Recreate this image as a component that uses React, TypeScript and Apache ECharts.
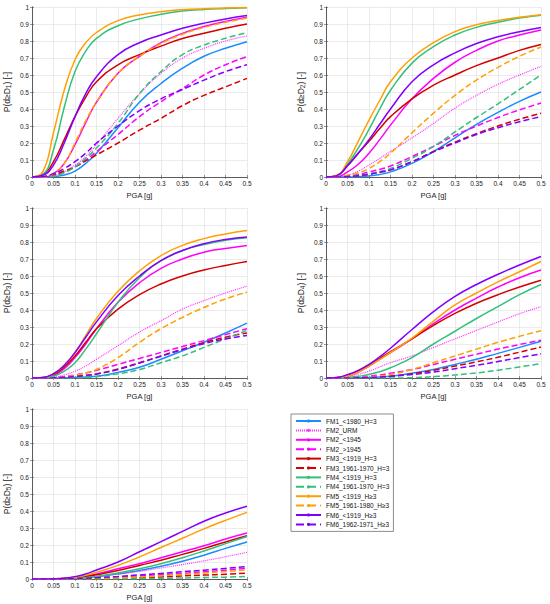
import React, { useEffect, useRef } from "react";
import * as echarts from "echarts";

// PGA sample points [g]
const PGA = [0, 0.025, 0.05, 0.075, 0.1, 0.125, 0.15, 0.2, 0.25, 0.3, 0.35, 0.4, 0.45, 0.5];

const NAMES = [
  "FM1_<1980_H=3",
  "FM2_URM",
  "FM2_<1945",
  "FM2_>1945",
  "FM3_<1919_H=3",
  "FM3_1961-1970_H=3",
  "FM4_<1919_H=3",
  "FM4_1961-1970_H=3",
  "FM5_<1919_H≥3",
  "FM5_1961-1980_H≥3",
  "FM6_<1919_H≥3",
  "FM6_1962-1971_H≥3",
];

const COLORS = [
  "#1a8cff", "#ff33ff", "#ff00ff", "#ff00ff",
  "#d40000", "#d40000", "#33c07a", "#33c07a",
  "#ffa000", "#ffa000", "#8000ff", "#8000ff",
];

const TYPES: any[] = [
  "solid", [1, 1], "solid", "dashed",
  "solid", "dashed", "solid", "dashed",
  "solid", "dashed", "solid", "dashed",
];

// Damage state 1 (order as NAMES)
const DS1 = [
  [0, 0, 0.003, 0.012, 0.035, 0.08, 0.14, 0.29, 0.44, 0.55, 0.64, 0.71, 0.757, 0.796],
  [0, 0, 0.01, 0.03, 0.07, 0.12, 0.19, 0.345, 0.49, 0.61, 0.7, 0.757, 0.8, 0.83],
  [0, 0, 0.02, 0.08, 0.19, 0.32, 0.44, 0.61, 0.71, 0.79, 0.845, 0.885, 0.915, 0.94],
  [0, 0, 0.01, 0.03, 0.06, 0.1, 0.15, 0.25, 0.355, 0.443, 0.52, 0.6, 0.66, 0.708],
  [0, 0.015, 0.09, 0.22, 0.355, 0.47, 0.56, 0.66, 0.72, 0.77, 0.815, 0.845, 0.875, 0.9],
  [0, 0.002, 0.015, 0.035, 0.06, 0.095, 0.13, 0.2, 0.276, 0.345, 0.42, 0.48, 0.53, 0.58],
  [0, 0.015, 0.16, 0.41, 0.62, 0.74, 0.815, 0.89, 0.93, 0.957, 0.976, 0.986, 0.991, 0.995],
  [0, 0, 0.005, 0.025, 0.06, 0.11, 0.17, 0.315, 0.49, 0.62, 0.72, 0.776, 0.816, 0.85],
  [0, 0.03, 0.26, 0.51, 0.69, 0.79, 0.85, 0.92, 0.953, 0.972, 0.984, 0.99, 0.994, 0.997],
  [0, 0, 0.02, 0.08, 0.2, 0.33, 0.44, 0.61, 0.71, 0.785, 0.84, 0.88, 0.91, 0.935],
  [0, 0.01, 0.07, 0.2, 0.355, 0.49, 0.59, 0.72, 0.79, 0.835, 0.875, 0.905, 0.93, 0.95],
  [0, 0.002, 0.02, 0.05, 0.09, 0.14, 0.2, 0.3, 0.39, 0.46, 0.515, 0.57, 0.62, 0.66],
];

const DS2 = [
  [0, 0, 0, 0.002, 0.006, 0.015, 0.03, 0.08, 0.15, 0.23, 0.31, 0.38, 0.445, 0.5],
  [0, 0, 0.01, 0.035, 0.07, 0.11, 0.15, 0.23, 0.315, 0.405, 0.48, 0.545, 0.6, 0.65],
  [0, 0.002, 0.03, 0.075, 0.14, 0.22, 0.305, 0.46, 0.58, 0.675, 0.745, 0.8, 0.835, 0.865],
  [0, 0, 0.005, 0.015, 0.03, 0.045, 0.065, 0.12, 0.18, 0.245, 0.3, 0.35, 0.395, 0.435],
  [0, 0.008, 0.067, 0.14, 0.21, 0.285, 0.355, 0.46, 0.54, 0.6, 0.655, 0.7, 0.745, 0.78],
  [0, 0, 0.003, 0.008, 0.016, 0.028, 0.042, 0.09, 0.15, 0.205, 0.255, 0.3, 0.34, 0.375],
  [0, 0.008, 0.075, 0.17, 0.28, 0.4, 0.51, 0.67, 0.767, 0.835, 0.88, 0.91, 0.935, 0.952],
  [0, 0, 0.003, 0.01, 0.02, 0.032, 0.05, 0.11, 0.18, 0.265, 0.35, 0.43, 0.515, 0.6],
  [0, 0.01, 0.09, 0.21, 0.335, 0.45, 0.56, 0.7, 0.79, 0.855, 0.895, 0.92, 0.94, 0.955],
  [0, 0, 0.01, 0.025, 0.05, 0.09, 0.14, 0.26, 0.375, 0.48, 0.57, 0.645, 0.71, 0.765],
  [0, 0.008, 0.067, 0.14, 0.22, 0.31, 0.4, 0.56, 0.66, 0.73, 0.785, 0.825, 0.855, 0.88],
  [0, 0, 0.003, 0.008, 0.016, 0.028, 0.042, 0.09, 0.148, 0.2, 0.25, 0.29, 0.325, 0.355],
];

const DS3 = [
  [0, 0, 0, 0.001, 0.003, 0.006, 0.01, 0.033, 0.063, 0.11, 0.16, 0.21, 0.265, 0.323],
  [0, 0, 0.005, 0.018, 0.04, 0.07, 0.11, 0.19, 0.27, 0.337, 0.405, 0.455, 0.5, 0.54],
  [0, 0.002, 0.015, 0.055, 0.12, 0.2, 0.29, 0.445, 0.56, 0.645, 0.7, 0.74, 0.762, 0.78],
  [0, 0, 0.002, 0.008, 0.018, 0.03, 0.045, 0.08, 0.115, 0.15, 0.185, 0.22, 0.255, 0.29],
  [0, 0.003, 0.02, 0.065, 0.13, 0.21, 0.29, 0.405, 0.49, 0.553, 0.6, 0.635, 0.662, 0.685],
  [0, 0, 0.001, 0.004, 0.01, 0.016, 0.024, 0.053, 0.09, 0.13, 0.17, 0.208, 0.24, 0.265],
  [0, 0.001, 0.01, 0.04, 0.09, 0.17, 0.26, 0.445, 0.59, 0.69, 0.75, 0.785, 0.81, 0.825],
  [0, 0, 0, 0, 0.001, 0.003, 0.008, 0.025, 0.05, 0.09, 0.13, 0.18, 0.23, 0.28],
  [0, 0.003, 0.024, 0.075, 0.15, 0.25, 0.35, 0.51, 0.63, 0.72, 0.78, 0.82, 0.847, 0.867],
  [0, 0, 0.001, 0.005, 0.015, 0.03, 0.05, 0.12, 0.21, 0.29, 0.357, 0.415, 0.465, 0.505],
  [0, 0.003, 0.025, 0.075, 0.15, 0.24, 0.33, 0.485, 0.6, 0.69, 0.75, 0.79, 0.815, 0.83],
  [0, 0, 0.001, 0.004, 0.009, 0.015, 0.023, 0.05, 0.088, 0.128, 0.167, 0.202, 0.23, 0.25],
];

const DS4 = [
  [0, 0, 0, 0.001, 0.003, 0.006, 0.01, 0.028, 0.05, 0.08, 0.11, 0.145, 0.18, 0.216],
  [0, 0.001, 0.008, 0.022, 0.04, 0.065, 0.09, 0.13, 0.18, 0.23, 0.28, 0.33, 0.378, 0.42],
  [0, 0.002, 0.012, 0.035, 0.07, 0.11, 0.15, 0.23, 0.32, 0.4, 0.47, 0.535, 0.59, 0.635],
  [0, 0, 0.001, 0.004, 0.01, 0.018, 0.028, 0.05, 0.08, 0.11, 0.14, 0.17, 0.197, 0.222],
  [0, 0.003, 0.015, 0.04, 0.075, 0.115, 0.155, 0.23, 0.31, 0.38, 0.44, 0.49, 0.535, 0.575],
  [0, 0, 0, 0.001, 0.003, 0.006, 0.01, 0.025, 0.045, 0.07, 0.095, 0.122, 0.152, 0.182],
  [0, 0, 0.003, 0.01, 0.02, 0.037, 0.06, 0.12, 0.2, 0.275, 0.35, 0.42, 0.49, 0.55],
  [0, 0, 0, 0, 0, 0, 0, 0.002, 0.008, 0.018, 0.03, 0.046, 0.065, 0.085],
  [0, 0.002, 0.012, 0.035, 0.07, 0.11, 0.15, 0.235, 0.335, 0.43, 0.5, 0.565, 0.625, 0.685],
  [0, 0, 0, 0.002, 0.006, 0.012, 0.02, 0.05, 0.09, 0.13, 0.17, 0.21, 0.245, 0.278],
  [0, 0.003, 0.02, 0.045, 0.08, 0.125, 0.175, 0.285, 0.39, 0.48, 0.55, 0.61, 0.665, 0.715],
  [0, 0, 0, 0.001, 0.003, 0.006, 0.01, 0.02, 0.035, 0.055, 0.075, 0.097, 0.12, 0.142],
];

const DS5 = [
  [0, 0, 0, 0.001, 0.003, 0.007, 0.013, 0.03, 0.05, 0.075, 0.105, 0.14, 0.18, 0.218],
  [0, 0, 0.001, 0.002, 0.005, 0.009, 0.015, 0.03, 0.045, 0.065, 0.085, 0.107, 0.131, 0.157],
  [0, 0, 0.001, 0.004, 0.01, 0.019, 0.03, 0.06, 0.09, 0.125, 0.16, 0.196, 0.235, 0.27],
  [0, 0, 0, 0.001, 0.002, 0.004, 0.006, 0.011, 0.018, 0.025, 0.033, 0.042, 0.052, 0.063],
  [0, 0, 0.001, 0.003, 0.008, 0.015, 0.025, 0.05, 0.08, 0.11, 0.145, 0.18, 0.218, 0.254],
  [0, 0, 0, 0, 0.001, 0.001, 0.002, 0.005, 0.008, 0.012, 0.018, 0.023, 0.028, 0.035],
  [0, 0, 0, 0.001, 0.004, 0.008, 0.015, 0.035, 0.06, 0.09, 0.125, 0.165, 0.208, 0.25],
  [0, 0, 0, 0, 0, 0, 0, 0.001, 0.002, 0.004, 0.006, 0.009, 0.011, 0.015],
  [0, 0, 0.001, 0.004, 0.01, 0.022, 0.04, 0.08, 0.13, 0.185, 0.24, 0.295, 0.345, 0.392],
  [0, 0, 0, 0, 0.001, 0.002, 0.003, 0.007, 0.012, 0.019, 0.027, 0.035, 0.044, 0.054],
  [0, 0, 0.001, 0.005, 0.014, 0.03, 0.053, 0.1, 0.16, 0.22, 0.28, 0.34, 0.388, 0.428],
  [0, 0, 0, 0.001, 0.003, 0.005, 0.008, 0.015, 0.024, 0.033, 0.043, 0.052, 0.062, 0.073],
];

const PANELS = [DS1, DS2, DS3, DS4, DS5];
const DS_LABELS = ["1", "2", "3", "4", "5"];

const GRID_POS = [
  [32, 7],
  [326, 7],
  [32, 208],
  [326, 208],
  [32, 409],
];

const FONT = "'Liberation Sans', Arial, Helvetica, sans-serif";
const AXIS_COLOR = "#555555";

export default function App() {
  const ref = useRef<HTMLDivElement>(null);

  useEffect(() => {
    if (!ref.current) return;
    const chart = echarts.init(ref.current, null, { renderer: "svg" });

    const grid: any[] = [];
    const xAxis: any[] = [];
    const yAxis: any[] = [];
    const series: any[] = [];

    PANELS.forEach((panel, p) => {
      grid.push({
        left: GRID_POS[p][0],
        top: GRID_POS[p][1],
        width: 215,
        height: 170,
        containLabel: false,
      });
      const commonLine = { show: true, lineStyle: { color: AXIS_COLOR, width: 0.8 } };
      const tick = { show: true, inside: true, length: 2, lineStyle: { color: AXIS_COLOR, width: 0.6 } };
      xAxis.push({
        type: "value",
        gridIndex: p,
        min: 0,
        max: 0.5,
        interval: 0.05,
        name: "PGA [g]",
        nameLocation: "middle",
        nameGap: 14,
        nameTextStyle: { fontSize: 7.5, color: "#222", fontFamily: FONT },
        axisLine: commonLine,
        axisTick: tick,
        axisLabel: { fontSize: 6.5, color: "#222", margin: 3, fontFamily: FONT },
        splitLine: { show: true, lineStyle: { color: "#e3e3e3", width: 0.7 } },
      });
      xAxis.push({
        type: "value",
        gridIndex: p,
        position: "top",
        min: 0,
        max: 0.5,
        interval: 0.05,
        axisLine: commonLine,
        axisTick: tick,
        axisLabel: { show: false },
        splitLine: { show: false },
      });
      yAxis.push({
        type: "value",
        gridIndex: p,
        min: 0,
        max: 1,
        interval: 0.1,
        name: "P(d≥D{s|" + DS_LABELS[p] + "}) [-]",
        nameLocation: "middle",
        nameGap: 20,
        nameTextStyle: {
          fontSize: 8.5,
          color: "#222",
          fontFamily: FONT,
          rich: {
            s: { fontSize: 6.5, color: "#222", fontFamily: FONT, padding: [4, 0, 0, 0] },
          },
        },
        axisLine: commonLine,
        axisTick: tick,
        axisLabel: { fontSize: 6.5, color: "#222", margin: 3, fontFamily: FONT },
        splitLine: { show: true, lineStyle: { color: "#e3e3e3", width: 0.7 } },
      });
      yAxis.push({
        type: "value",
        gridIndex: p,
        position: "right",
        min: 0,
        max: 1,
        interval: 0.1,
        axisLine: commonLine,
        axisTick: tick,
        axisLabel: { show: false },
        splitLine: { show: false },
      });

      panel.forEach((vals, i) => {
        const dotted = Array.isArray(TYPES[i]);
        series.push({
          type: "line",
          name: NAMES[i],
          xAxisIndex: p * 2,
          yAxisIndex: p * 2,
          data: PGA.map((x, k) => [x, vals[k]]),
          smooth: 0.5,
          symbol: "none",
          showSymbol: false,
          silent: true,
          lineStyle: {
            color: COLORS[i],
            width: dotted ? 1.2 : 1.5,
            type: TYPES[i],
          },
          itemStyle: { color: COLORS[i] },
        });
      });
    });

    chart.setOption({
      animation: false,
      backgroundColor: "#ffffff",
      textStyle: { fontFamily: FONT },
      grid,
      xAxis,
      yAxis,
      series,
      legend: {
        data: NAMES,
        orient: "vertical",
        left: 291,
        top: 414,
        padding: [3, 4, 3, 4],
        itemWidth: 25,
        itemHeight: 4,
        itemGap: 1.4,
        backgroundColor: "#ffffff",
        borderColor: "#8c8c8c",
        borderWidth: 1,
        selectedMode: false,
        textStyle: { fontSize: 6.5, lineHeight: 8, color: "#111", fontFamily: FONT },
      },
    });

    return () => {
      chart.dispose();
    };
  }, []);

  return (
    <div
      ref={ref}
      style={{ position: "absolute", left: 0, top: 0, width: 550, height: 604, background: "#fff" }}
    />
  );
}
